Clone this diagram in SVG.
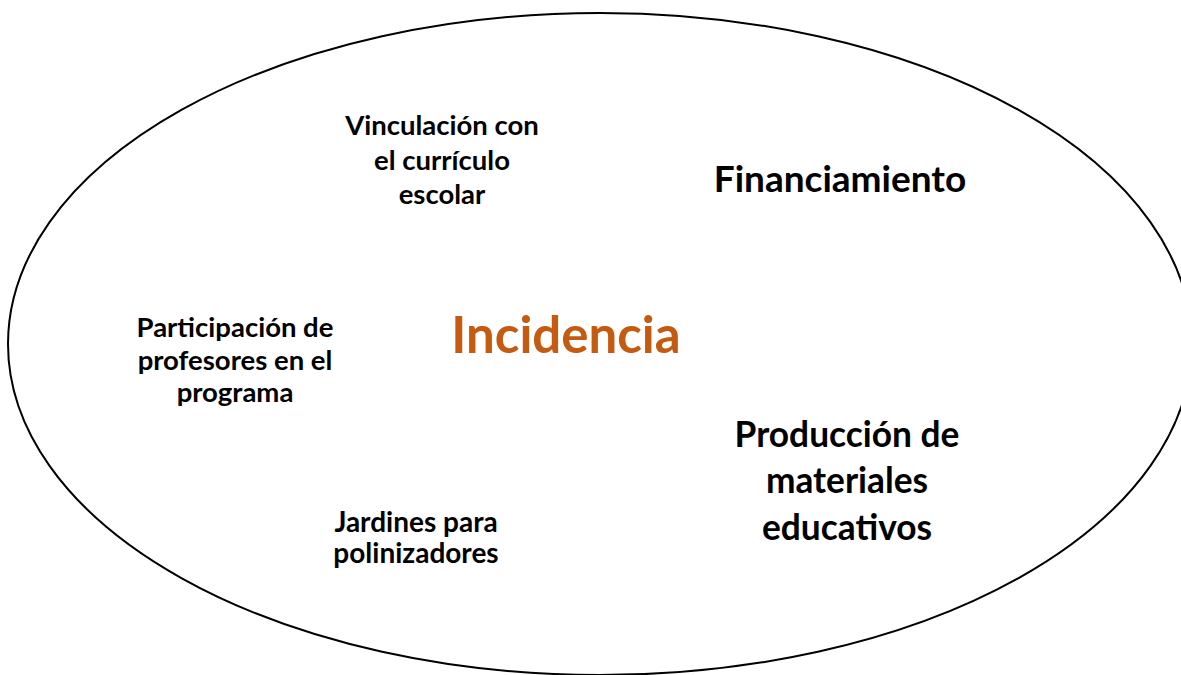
<svg xmlns="http://www.w3.org/2000/svg" width="1181" height="675" viewBox="0 0 1181 675">
<style>
.t{font-family:Lato,"Open Sans","Liberation Sans",sans-serif;font-weight:bold;fill:#000;text-anchor:middle}
.s{font-size:27.5px}
.j{font-size:28px}
.f{font-size:37px}
.m{font-size:35.3px}
.c{font-size:51px;fill:#C55A11}
</style>
<rect width="1181" height="675" fill="#fff"/>
<g id="boundary">
<ellipse cx="600" cy="344" rx="592" ry="331" fill="none" stroke="#000" stroke-width="2"/>
</g>
<g id="connectors"></g>
<g id="incidencia"><text class="t c" x="566" y="353">Incidencia</text></g>
<g id="vinculacion">
<text class="t s" x="442" y="135">Vinculación con</text>
<text class="t s" x="442" y="170">el currículo</text>
<text class="t s" x="442" y="204">escolar</text>
</g>
<g id="financiamiento"><text class="t f" x="840" y="192">Financiamiento</text></g>
<g id="participacion">
<text class="t s" x="235" y="337">Participación de</text>
<text class="t s" x="235" y="370">profesores en el</text>
<text class="t s" x="235" y="402">programa</text>
</g>
<g id="produccion">
<text class="t m" x="847" y="447">Producción de</text>
<text class="t m" x="847" y="493">materiales</text>
<text class="t m" x="847" y="540">educativos</text>
</g>
<g id="jardines">
<text class="t j" x="416" y="532">Jardines para</text>
<text class="t j" x="416" y="563">polinizadores</text>
</g>
</svg>
